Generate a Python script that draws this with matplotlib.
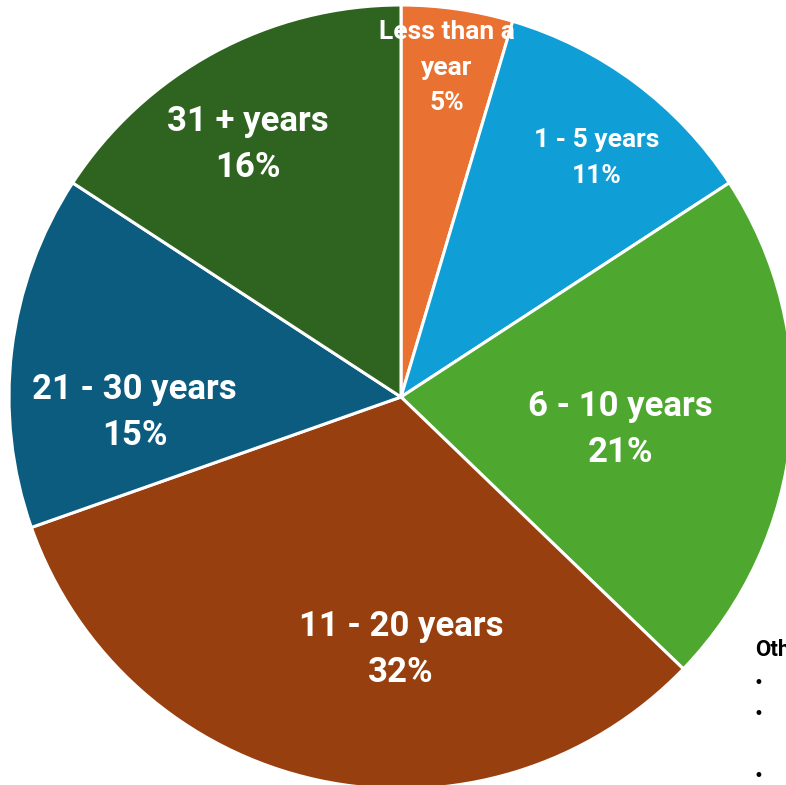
import matplotlib
matplotlib.use('Agg')
import matplotlib.pyplot as plt

# Years of experience distribution
categories = ['Less than a\nyear', '1 - 5 years', '6 - 10 years', '11 - 20 years',
              '21 - 30 years', '31 + years']
shares = [4.6, 11.2, 21.4, 32.4, 14.6, 15.8]
pct_labels = ['5%', '11%', '21%', '32%', '15%', '16%']
colors = ['#E97132', '#0F9ED5', '#4EA72E', '#983F0F', '#0B5C7E', '#2E6420']

# label placement (offset from pie center, in radii) and font size
label_offsets = [(0.117, 0.84), (0.50, 0.61), (0.56, -0.084), (0.0, -0.645),
                 (-0.68, -0.04), (-0.39, 0.645)]
label_sizes = [19, 19, 25, 25, 25, 25]
label_spacing = [1.6, 1.6, 1.5, 1.5, 1.5, 1.5]

W, H = 786, 785
fig = plt.figure(figsize=(W / 100, H / 100), dpi=100)
ax = fig.add_axes([0, 0, 1, 1])
ax.set_xlim(0, W)
ax.set_ylim(0, H)
ax.axis('off')

cx, cy, r = 401, H - 397, 392
wedges, _ = ax.pie(shares, colors=colors, startangle=90, counterclock=False,
                   center=(cx, cy), radius=r, normalize=True,
                   wedgeprops=dict(edgecolor='white', linewidth=2.2))
ax.set_xlim(0, W)
ax.set_ylim(0, H)

for cat, pct, (ox, oy), fs, ls in zip(categories, pct_labels, label_offsets,
                                      label_sizes, label_spacing):
    ax.text(cx + ox * r, cy + oy * r, f'{cat}\n{pct}', ha='center', va='center',
            fontsize=fs, fontweight='bold', color='white', family='Roboto',
            linespacing=ls)

# partially visible side note (cut by the right edge, as in the source)
ax.text(755, H - 650, 'Other', ha='left', va='center', fontsize=16,
        fontweight='bold', color='black', family='Roboto')
for by in [683, 714, 776]:
    ax.text(754, H - by, '\u2022', ha='left', va='center', fontsize=12, color='black')

fig.savefig('out.png', dpi=100)
